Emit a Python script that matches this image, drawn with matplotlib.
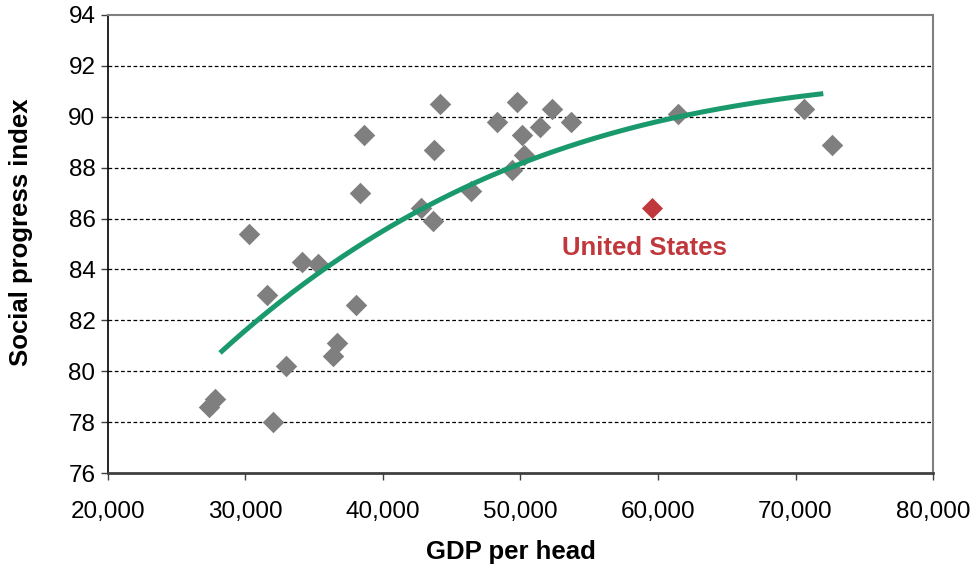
import numpy as np
import matplotlib
matplotlib.use("Agg")
import matplotlib.pyplot as plt

# Данные: ВВП на душу населения и индекс социального прогресса
gdp = [27350, 27780, 32020, 32950, 30280, 31540, 34110, 35300, 36630, 36340,
       38040, 38330, 38640, 42760, 43620, 43730, 44150, 46380, 48310, 49720,
       49400, 50090, 50280, 51420, 52270, 53640, 61430, 70620, 72630]
spi = [78.6, 78.9, 78.0, 80.2, 85.4, 83.0, 84.3, 84.2, 81.1, 80.6,
       82.6, 87.0, 89.3, 86.4, 85.9, 88.7, 90.5, 87.1, 89.8, 90.6,
       87.9, 89.3, 88.5, 89.6, 90.3, 89.8, 90.1, 90.3, 88.9]
us_gdp = 59560
us_spi = 86.4
us_label = "United States"

trend_gdp = [28150, 30690, 35660, 41960, 48750, 61840, 72020]
trend_spi = [80.68, 82.0, 84.0, 86.0, 88.0, 90.0, 90.92]

x_ticks = [20000, 30000, 40000, 50000, 60000, 70000, 80000]
y_ticks = [76, 78, 80, 82, 84, 86, 88, 90, 92, 94]

plt.rcParams['font.family'] = ["Liberation Sans", "DejaVu Sans"]

fig = plt.figure(figsize=(9.78, 5.7), dpi=100)
ax = fig.add_axes([0.1104, 0.170, 0.8436, 0.8037])

ax.scatter(gdp, spi, marker='D', s=120, color='#7f7f7f', linewidths=0, zorder=3)
ax.scatter([us_gdp], [us_spi], marker='D', s=115, color='#c0373c', linewidths=0, zorder=3)

# Гладкая кривая через точки тренда
coef = np.polyfit(np.array(trend_gdp) / 1000.0, trend_spi, 3)
xs = np.linspace(trend_gdp[0], trend_gdp[-1], 200)
ax.plot(xs, np.polyval(coef, xs / 1000.0), color='#1a9a6c', lw=3.6, zorder=4,
        solid_capstyle='butt')

ax.text(59050, 84.83, us_label, color='#c0373c', fontsize=18.5, fontweight='bold',
        ha='center', va='center')

ax.set_xlim(20000, 80000)
ax.set_ylim(76, 94)
ax.set_xticks(x_ticks)
ax.set_xticklabels([f"{v:,}" for v in x_ticks])
ax.set_yticks(y_ticks)
ax.tick_params(axis='both', labelsize=17.5, direction='out', length=5, width=1,
               color='#404040')
ax.tick_params(axis='x', pad=15)
ax.tick_params(axis='y', pad=4)

for v in y_ticks[1:-1]:
    ax.axhline(v, color='black', lw=0.9, ls=(0, (3, 2)), zorder=1)

ax.spines['bottom'].set_color('#404040')
ax.spines['bottom'].set_linewidth(2)
ax.spines['left'].set_color('black')
ax.spines['left'].set_linewidth(1.2)
for s in ['top', 'right']:
    ax.spines[s].set_color('#808080')
    ax.spines[s].set_linewidth(1.5)

ax.set_xlabel("GDP per head", fontsize=18.5, fontweight='bold')
ax.set_ylabel("Social progress index", fontsize=18.5, fontweight='bold')
ax.xaxis.set_label_coords(0.488, -0.146)
ax.yaxis.set_label_coords(-0.091, 0.526)

fig.savefig("out.png", dpi=100)
